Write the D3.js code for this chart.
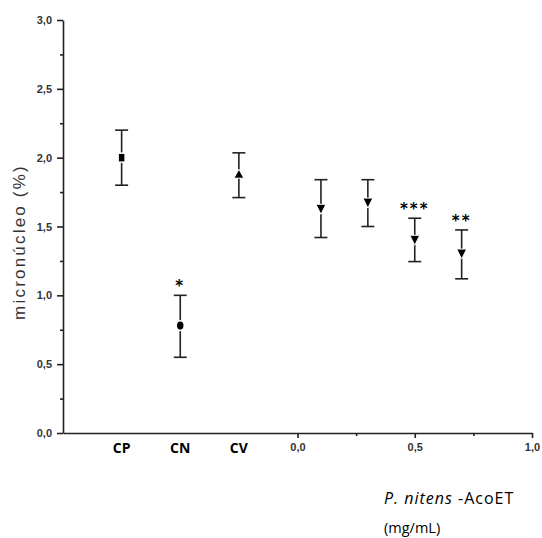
<!DOCTYPE html>
<html><head><meta charset="utf-8">
<script src="https://cdn.jsdelivr.net/npm/d3@7"></script>
<style>body{margin:0;background:#fff}</style>
</head><body>
<svg id="c" width="542" height="538"></svg>
<script>
const controlLabels = ["CP","CN","CV"];
const controlPos = [-0.75,-0.5,-0.25];
const controlMean = [2.00,0.78,1.88];
const controlLow = [1.80,0.55,1.71];
const controlHigh = [2.20,1.00,2.035];
const controlShape = ["square","circle","triangle"];
const controlSig = ["","*",""];

const doses = [0.1,0.3,0.5,0.7];
const doseMean = [1.625,1.67,1.40,1.30];
const doseLow = [1.42,1.50,1.245,1.12];
const doseHigh = [1.84,1.84,1.56,1.475];
const doseSig = ["","","***","**"];

const yTicks = [0,0.5,1,1.5,2,2.5,3];
const yMinor = [0.25,0.75,1.25,1.75,2.25,2.75];
const xTicks = [0,0.5,1];
const xMinor = [0.25,0.75];

const svg = d3.select("#c");
const x = d3.scaleLinear().domain([-1,1]).range([63,532]);
const y = d3.scaleLinear().domain([0,3]).range([433,20]);
const fmt = v => d3.format(".1f")(v).replace(".",",");
const ink = "#222";
const tickFont = "Liberation Sans Narrow, Liberation Sans, Arial";

// Y axis
const ya = svg.append("g").attr("transform","translate(63,0)")
  .call(d3.axisLeft(y).tickValues(yTicks).tickSize(6).tickSizeOuter(0).tickFormat(fmt));
svg.append("g").attr("transform","translate(63,0)")
  .call(d3.axisLeft(y).tickValues(yMinor).tickSize(3).tickSizeOuter(0).tickFormat(""))
  .select(".domain").remove();
// X axis
const xa = svg.append("g").attr("transform","translate(0,433)")
  .call(d3.axisBottom(x).tickValues(xTicks).tickSize(5).tickSizeOuter(0).tickFormat(fmt));
svg.append("g").attr("transform","translate(0,433)")
  .call(d3.axisBottom(x).tickValues(xMinor).tickSize(3).tickSizeOuter(0).tickFormat(""))
  .select(".domain").remove();

svg.selectAll(".domain, .tick line").attr("stroke",ink).attr("stroke-width",1.6);
ya.selectAll("text").attr("font-family",tickFont).attr("font-size",11).attr("font-weight","bold").attr("fill","#333").attr("x",-11);
xa.selectAll("text").attr("font-family",tickFont).attr("font-size",11).attr("font-weight","bold").attr("fill","#333").attr("y",10);

// Category labels
svg.selectAll(".cat").data(controlLabels).enter().append("text")
  .attr("x",(d,i)=>x(controlPos[i])).attr("y",453)
  .attr("text-anchor","middle").attr("font-family","Open Sans, Arial").attr("font-weight","bold")
  .attr("font-size",14).attr("fill","#000").text(d=>d);

// Points
const pts = [];
controlLabels.forEach((c,i)=>pts.push({x:controlPos[i],m:controlMean[i],lo:controlLow[i],hi:controlHigh[i],shape:controlShape[i],sig:controlSig[i]}));
doses.forEach((d,i)=>pts.push({x:d,m:doseMean[i],lo:doseLow[i],hi:doseHigh[i],shape:"tdown",sig:doseSig[i]}));

const g = svg.append("g");
pts.forEach(p=>{
  const cx = x(p.x);
  g.append("line").attr("x1",cx).attr("x2",cx).attr("y1",y(p.hi)).attr("y2",y(p.lo)).attr("stroke",ink).attr("stroke-width",1.6);
  [p.hi,p.lo].forEach(v=>g.append("line").attr("x1",cx-6.5).attr("x2",cx+6.5).attr("y1",y(v)).attr("y2",y(v)).attr("stroke",ink).attr("stroke-width",1.6));
  const cy = y(p.m);
  if(p.shape==="square"){
    g.append("rect").attr("x",cx-3.5).attr("y",cy-4.5).attr("width",7).attr("height",9).attr("fill","#000").attr("stroke","#fff").attr("stroke-width",1.5);
  } else if(p.shape==="circle"){
    g.append("ellipse").attr("cx",cx).attr("cy",cy).attr("rx",4).attr("ry",4.8).attr("fill","#000").attr("stroke","#fff").attr("stroke-width",1.5);
  } else if(p.shape==="triangle"){
    g.append("path").attr("d",`M${cx},${cy-5}L${cx+5},${cy+4}L${cx-5},${cy+4}Z`).attr("fill","#000").attr("stroke","#fff").attr("stroke-width",1);
  } else {
    g.append("path").attr("d",`M${cx-5},${cy-5}L${cx+5},${cy-5}L${cx},${cy+5}Z`).attr("fill","#000").attr("stroke","#fff").attr("stroke-width",1);
  }
  if(p.sig){
    g.append("text").attr("x",cx).attr("y",y(p.hi)-4).attr("text-anchor","middle")
      .attr("font-family","DejaVu Sans, Arial").attr("font-weight","bold").attr("font-size",15).attr("fill","#000")
      .attr("letter-spacing",2).text(p.sig);
  }
});

// Titles
svg.append("text").attr("transform","translate(25,242) rotate(-90)").attr("text-anchor","middle")
  .attr("font-family","Liberation Sans, Arial").attr("font-size",17).attr("letter-spacing",2.2).attr("fill","#333").text("micronúcleo (%)");
const xt = svg.append("text").attr("x",384).attr("y",504).attr("font-family","Open Sans, Arial").attr("font-size",16).attr("letter-spacing",1).attr("fill","#000");
xt.append("tspan").attr("font-style","italic").text("P. nitens");
xt.append("tspan").text(" -AcoET");
svg.append("text").attr("x",384).attr("y",533).attr("font-family","Open Sans, Arial").attr("font-size",14.5).attr("fill","#000").text("(mg/mL)");
</script>
</body></html>
